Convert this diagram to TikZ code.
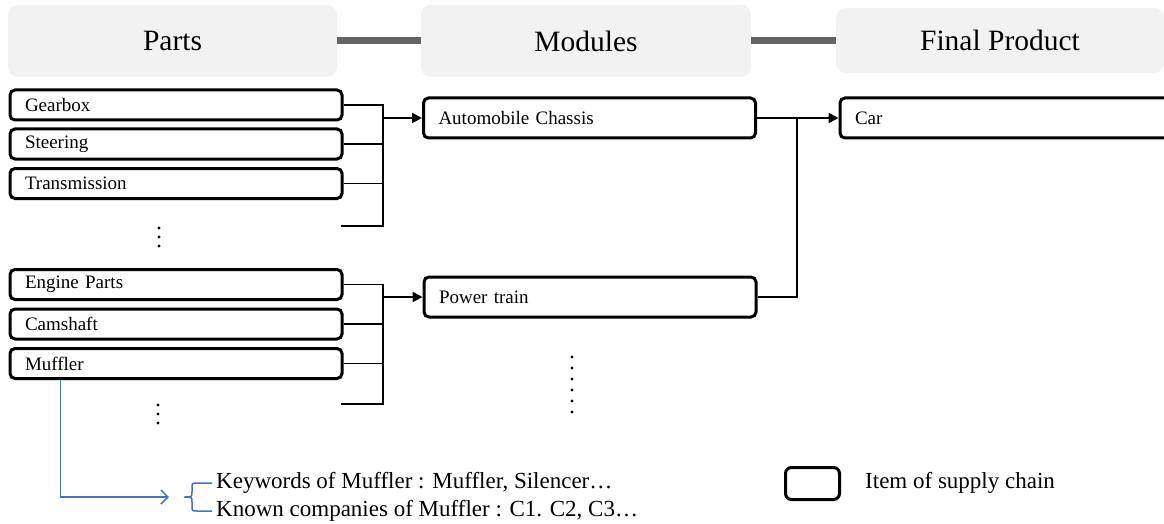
\documentclass[tikz,border=0pt]{standalone}
\usepackage{fontspec}
\setmainfont{LiberationSerif}[Extension=.ttf, UprightFont=*-Regular,
  BoldFont=*-Bold, ItalicFont=*-Italic, BoldItalicFont=*-BoldItalic]
\usetikzlibrary{arrows.meta}
\definecolor{hdrfill}{RGB}{242,242,242}
\definecolor{barcol}{RGB}{100,100,100}
\definecolor{linkblue}{RGB}{68,114,196}
\tikzset{
  header/.style={fill=hdrfill, rounded corners=10pt, inner sep=0pt,
    font=\fontsize{29.5}{32}\selectfont},
  bar/.style={barcol, line width=7pt},
  item/.style={draw=black, line width=3pt, rounded corners=5pt, align=left,
    inner xsep=15pt, inner ysep=0pt, font=\fontsize{19}{22}\selectfont},
  part/.style={item, text width=302pt, minimum height=30pt},
  module/.style={item, text width=302pt, minimum height=40pt},
  link/.style={black, line width=1.5pt},
  feed/.style={black, line width=2pt, -{Triangle[length=10pt,width=10pt]}},
  dot/.style={fill=black, circle, inner sep=0pt, minimum size=3.4pt},
  note/.style={anchor=west, inner sep=0pt, font=\fontsize{23}{26}\selectfont},
}
\begin{document}
\begin{tikzpicture}[x=1pt, y=-1pt]
\useasboundingbox (0,0) rectangle (1164,524);
\clip (0,0) rectangle (1164,524);

% column headers
\node[header, minimum width=329pt, minimum height=72pt] (hparts) at (172.5,41) {Parts};
\node[header, minimum width=330pt, minimum height=72pt] (hmod) at (586,41) {Modules};
\node[header, minimum width=328pt, minimum height=65pt] (hfin) at (1000,40.5) {Final Product};
\draw[bar] (hparts.east |- 0,41) -- (hmod.west |- 0,41);
\draw[bar] (hmod.east |- 0,41) -- (hfin.west |- 0,41);

% parts
\node[part] (gearbox) at (176,105) {Gearbox};
\node[part] (steering) at (176,144) {Steering};
\node[part] (transmission) at (176,183.5) {Transmission};
\node[part] (engine) at (176,284.5) {Engine Parts};
\node[part] (camshaft) at (176,324) {Camshaft};
\node[part] (muffler) at (176,363.5) {Muffler};

% modules and final product
\node[module] (chassis) at (589.5,118) {Automobile Chassis};
\node[module] (powertrain) at (590,297) {Power train};
\node[module, text width=330pt] (car) at (1020,118) {Car};

% collectors into the chassis
\coordinate (c1top) at (383,105);
\coordinate (c1bot) at (383,226);
\coordinate (c1open) at (341,226);
\coordinate (c1out) at (383,118);
\draw[link] (gearbox.east) -- (gearbox.east -| c1top) -- (c1bot) -- (c1open);
\draw[link] (steering.east) -- (steering.east -| c1top);
\draw[link] (transmission.east) -- (transmission.east -| c1top);
\draw[feed] (c1out) -- (chassis.west);

% collectors into the power train
\coordinate (c2top) at (383,284.5);
\coordinate (c2bot) at (383,404);
\coordinate (c2open) at (341,404);
\coordinate (c2out) at (383,297);
\draw[link] (engine.east) -- (engine.east -| c2top) -- (c2bot) -- (c2open);
\draw[link] (camshaft.east) -- (camshaft.east -| c2top);
\draw[link] (muffler.east) -- (muffler.east -| c2top);
\draw[feed] (c2out) -- (powertrain.west);

% modules into the car
\coordinate (join) at (797,118);
\draw[feed] (chassis.east) -- (car.west);
\draw[link] (powertrain.east) -- (powertrain.east -| join) -- (join);

% continuation dots
\foreach \y in {228,237,246} \node[dot] at (159,\y) {};
\foreach \y in {405,414,423} \node[dot] at (158,\y) {};
\foreach \y in {357,368,379,390,401,412} \node[dot] at (572,\y) {};

% muffler detail
\coordinate (mfoot) at ([xshift=52pt]muffler.south west);
\coordinate (mtip) at (169,497);
\draw[linkblue, line width=1.5pt, -{Straight Barb[length=7pt,width=14pt,line width=1.5pt]}]
  (mfoot) |- (mtip);
\draw[linkblue, line width=1.5pt]
  (212,483) -- (197,483) .. controls (192,483) .. (192,488) -- (192,492)
  .. controls (192,497) .. (184,497)
  .. controls (192,497) .. (192,502) -- (192,506)
  .. controls (192,511) .. (197,511) -- (212,511);
\node[note] (kw) at (216,483) {Keywords of Muffler : Muffler, Silencer…};
\node[note] (kc) at (216,511) {Known companies of Muffler : C1. C2, C3…};

% legend
\node[draw=black, line width=3pt, rounded corners=6pt, minimum width=54pt,
  minimum height=32pt, inner sep=0pt] (legbox) at (812.5,483.5) {};
\node[note] (legtext) at (865,483) {Item of supply chain};
\end{tikzpicture}
\end{document}
